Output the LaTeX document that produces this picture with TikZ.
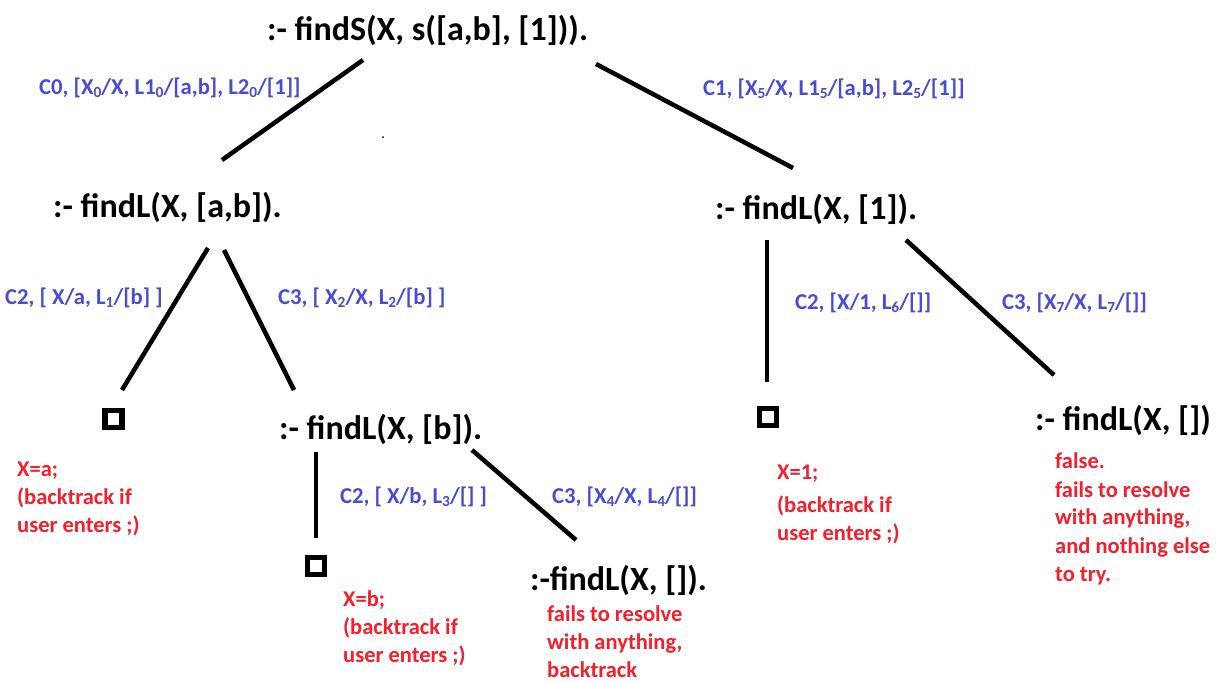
\documentclass[tikz,border=0pt]{standalone}
\usepackage{fontspec}
\usepackage{graphicx}
\setmainfont{Carlito}
\definecolor{clauseblue}{RGB}{72,76,206}
\definecolor{noteRed}{RGB}{244,30,44}
\newcommand{\lo}[1]{\raisebox{-0.28ex}{\scalebox{0.68}{#1}}}
\tikzset{
  goal/.style={font=\fontsize{34}{36}\selectfont\bfseries, inner sep=0pt, anchor=west},
  clause/.style={font=\fontsize{22.7}{26}\selectfont\bfseries, text=clauseblue, inner sep=0pt, anchor=west},
  note/.style={font=\fontsize{22.5}{28}\selectfont\bfseries, text=noteRed, inner sep=0pt, anchor=north west, align=left},
  edge/.style={line width=4.5pt, black},
  empty/.style={draw=black, line width=5.5pt, minimum size=17pt, inner sep=0pt, fill=white}
}
\begin{document}
\begin{tikzpicture}[x=1pt, y=-1pt]
\useasboundingbox[fill=white] (0,0) rectangle (1217,681);

% goals
\node[goal] (root) at (267,30) {:- findS(X, s([a,b], [1])).};
\node[goal] (gab) at (53,207) {:- findL(X, [a,b]).};
\node[goal] (g1) at (715,209) {:- findL(X, [1]).};
\node[goal] (gb) at (279,429) {:- findL(X, [b]).};
\node[goal] (gnil) at (530,580) {:-findL(X, []).};
\node[goal] (gnil2) at (1035,420) {:- findL(X, [])};

% empty clauses (successes)
\node[empty] (sa) at (113.5,419) {};
\node[empty] (sb) at (316,566) {};
\node[empty] (s1) at (768,417) {};

% edge end points
\coordinate (r1) at (363,60);  \coordinate (r2) at (222,160);
\coordinate (r3) at (596,64);  \coordinate (r4) at (793,168);
\coordinate (a1) at (208,248); \coordinate (a2) at (122,390);
\coordinate (a3) at (224,250); \coordinate (a4) at (294,390);
\coordinate (b1) at (316,452); \coordinate (b2) at (316,538);
\coordinate (b3) at (472,450); \coordinate (b4) at (576,540);
\coordinate (c1) at (767,240); \coordinate (c2) at (767,382);
\coordinate (c3) at (906,240); \coordinate (c4) at (1054,375);

\draw[edge] (r1) -- (r2);
\draw[edge] (r3) -- (r4);
\draw[edge] (a1) -- (a2);
\draw[edge] (a3) -- (a4);
\draw[edge] (b1) -- (b2);
\draw[edge] (b3) -- (b4);
\draw[edge] (c1) -- (c2);
\draw[edge] (c3) -- (c4);

% clause labels
\node[clause] (l0) at (39,88) {C0, [X\lo{0}/X, L1\lo{0}/[a,b], L2\lo{0}/[1]]};
\node[clause] (l1) at (703,89) {C1, [X\lo{5}/X, L1\lo{5}/[a,b], L2\lo{5}/[1]]};
\node[clause] (l2) at (5,298) {C2, [ X/a, L\lo{1}/[b] ]};
\node[clause] (l3) at (278,298) {C3, [ X\lo{2}/X, L\lo{2}/[b] ]};
\node[clause] (l4) at (340,497) {C2, [ X/b, L\lo{3}/[] ]};
\node[clause] (l5) at (552,497) {C3, [X\lo{4}/X, L\lo{4}/[]]};
\node[clause] (l6) at (795,303) {C2, [X/1, L\lo{6}/[]]};
\node[clause] (l7) at (1002,303) {C3, [X\lo{7}/X, L\lo{7}/[]]};

% notes
\node[note] (na) at (17,462) {X=a;\\(backtrack if\\user enters ;)};
\node[note] (nb) at (343,590) {X=b;\\(backtrack if\\user enters ;)};
\node[note] (n1) at (777,465) {X=1;\\[5pt](backtrack if\\user enters ;)};
\node[note] (nf) at (547,605) {fails to resolve\\with anything,\\backtrack};
\node[note] (nf2) at (1055,453) {false.\\fails to resolve\\with anything,\\and nothing else\\to try.};

% small stray dot
\fill (383,137) circle (1pt);
\end{tikzpicture}
\end{document}
